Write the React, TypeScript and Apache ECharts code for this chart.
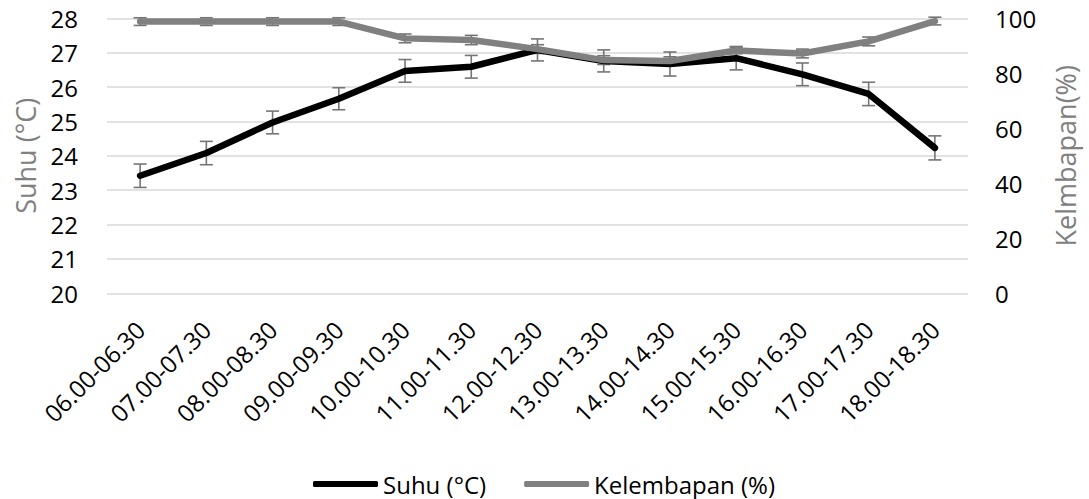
import React, { useEffect, useRef } from "react";
import * as echarts from "echarts";

const categories = [
  "06.00-06.30", "07.00-07.30", "08.00-08.30", "09.00-09.30", "10.00-10.30",
  "11.00-11.30", "12.00-12.30", "13.00-13.30", "14.00-14.30", "15.00-15.30",
  "16.00-16.30", "17.00-17.30", "18.00-18.30",
];
const suhu = [23.42, 24.08, 24.97, 25.66, 26.47, 26.59, 27.08, 26.76, 26.67, 26.84, 26.37, 25.8, 24.23];
const suhuErr = [0.34, 0.34, 0.33, 0.32, 0.33, 0.33, 0.32, 0.32, 0.35, 0.34, 0.33, 0.34, 0.35];
const kelembapan = [98.8, 98.8, 98.8, 98.8, 92.7, 92.1, 88.8, 84.8, 84.5, 88.3, 87.2, 91.6, 99.0];
const kelembapanErr = [1.4, 1.4, 1.4, 1.4, 1.6, 1.7, 1.6, 1.6, 1.5, 1.2, 1.6, 1.6, 1.4];
const suhuTicks = { min: 20, max: 28, interval: 1 };
const kelTicks = { min: 0, max: 100, interval: 20 };

const FONT = "'Open Sans', sans-serif";
const ERR_COLOR = "#757575";

function errorSeries(values: number[], errs: number[], yAxisIndex: number) {
  return {
    type: "custom",
    yAxisIndex,
    z: 1,
    silent: true,
    encode: { x: 0, y: [1, 2] },
    data: values.map((v, i) => [i, v - errs[i], v + errs[i]]),
    renderItem: (params: any, api: any) => {
      const i = api.value(0);
      const lo = api.coord([i, api.value(1)]);
      const hi = api.coord([i, api.value(2)]);
      const hw = 6.5;
      const style = { stroke: ERR_COLOR, lineWidth: 1.6 };
      return {
        type: "group",
        children: [
          { type: "line", shape: { x1: lo[0], y1: lo[1], x2: hi[0], y2: hi[1] }, style },
          { type: "line", shape: { x1: hi[0] - hw, y1: hi[1], x2: hi[0] + hw, y2: hi[1] }, style },
          { type: "line", shape: { x1: lo[0] - hw, y1: lo[1], x2: lo[0] + hw, y2: lo[1] }, style },
        ],
      };
    },
  };
}

export default function App() {
  const ref = useRef<HTMLDivElement>(null);
  useEffect(() => {
    if (!ref.current) return;
    const chart = echarts.init(ref.current, null, { renderer: "svg" });
    chart.setOption({
      animation: false,
      backgroundColor: "#ffffff",
      textStyle: { fontFamily: FONT },
      grid: { left: 107, right: 121, top: 18.3, bottom: 205.7, containLabel: false },
      legend: {
        left: 313,
        top: 472,
        icon: "roundRect",
        itemWidth: 65,
        itemHeight: 6,
        itemGap: 38,
        padding: 0,
        textStyle: { fontSize: 24, lineHeight: 24, color: "#000", fontFamily: FONT },
        data: ["Suhu (°C)", "Kelembapan (%)"],
      },
      xAxis: {
        type: "category",
        data: categories,
        boundaryGap: true,
        axisLine: { show: false },
        axisTick: { show: false },
        axisLabel: { rotate: 45, fontSize: 24, color: "#000", margin: 32, interval: 0, fontFamily: FONT },
        splitLine: { show: false },
      },
      yAxis: [
        {
          type: "value",
          ...suhuTicks,
          name: "Suhu (°C)",
          nameLocation: "middle",
          nameRotate: 90,
          nameGap: 68,
          nameTextStyle: { fontSize: 27, color: "#808080", fontFamily: FONT },
          axisLine: { show: false },
          axisTick: { show: false },
          axisLabel: { fontSize: 24, color: "#000", margin: 29, fontFamily: FONT },
          splitLine: { show: true, lineStyle: { color: "#d9d9d9", width: 1.5 } },
        },
        {
          type: "value",
          ...kelTicks,
          position: "right",
          name: "Kelmbapan(%)",
          nameLocation: "middle",
          nameRotate: 90,
          nameGap: 84,
          nameTextStyle: { fontSize: 27, color: "#808080", fontFamily: FONT },
          axisLine: { show: false },
          axisTick: { show: false },
          axisLabel: { fontSize: 24, color: "#000", margin: 27, fontFamily: FONT },
          splitLine: { show: false },
        },
      ],
      series: [
        errorSeries(suhu, suhuErr, 0),
        errorSeries(kelembapan, kelembapanErr, 1),
        {
          name: "Suhu (°C)",
          type: "line",
          yAxisIndex: 0,
          z: 3,
          data: suhu,
          symbol: "none",
          itemStyle: { color: "#000000" },
          lineStyle: { color: "#000000", width: 6.5, cap: "round", join: "round" },
        },
        {
          name: "Kelembapan (%)",
          type: "line",
          yAxisIndex: 1,
          z: 4,
          data: kelembapan,
          symbol: "none",
          itemStyle: { color: "#808080" },
          lineStyle: { color: "#808080", width: 6.5, cap: "round", join: "round" },
        },
      ],
    });
    return () => chart.dispose();
  }, []);
  return (
    <div
      ref={ref}
      style={{ position: "fixed", left: 0, top: 0, width: 1089, height: 499, background: "#fff" }}
    />
  );
}
